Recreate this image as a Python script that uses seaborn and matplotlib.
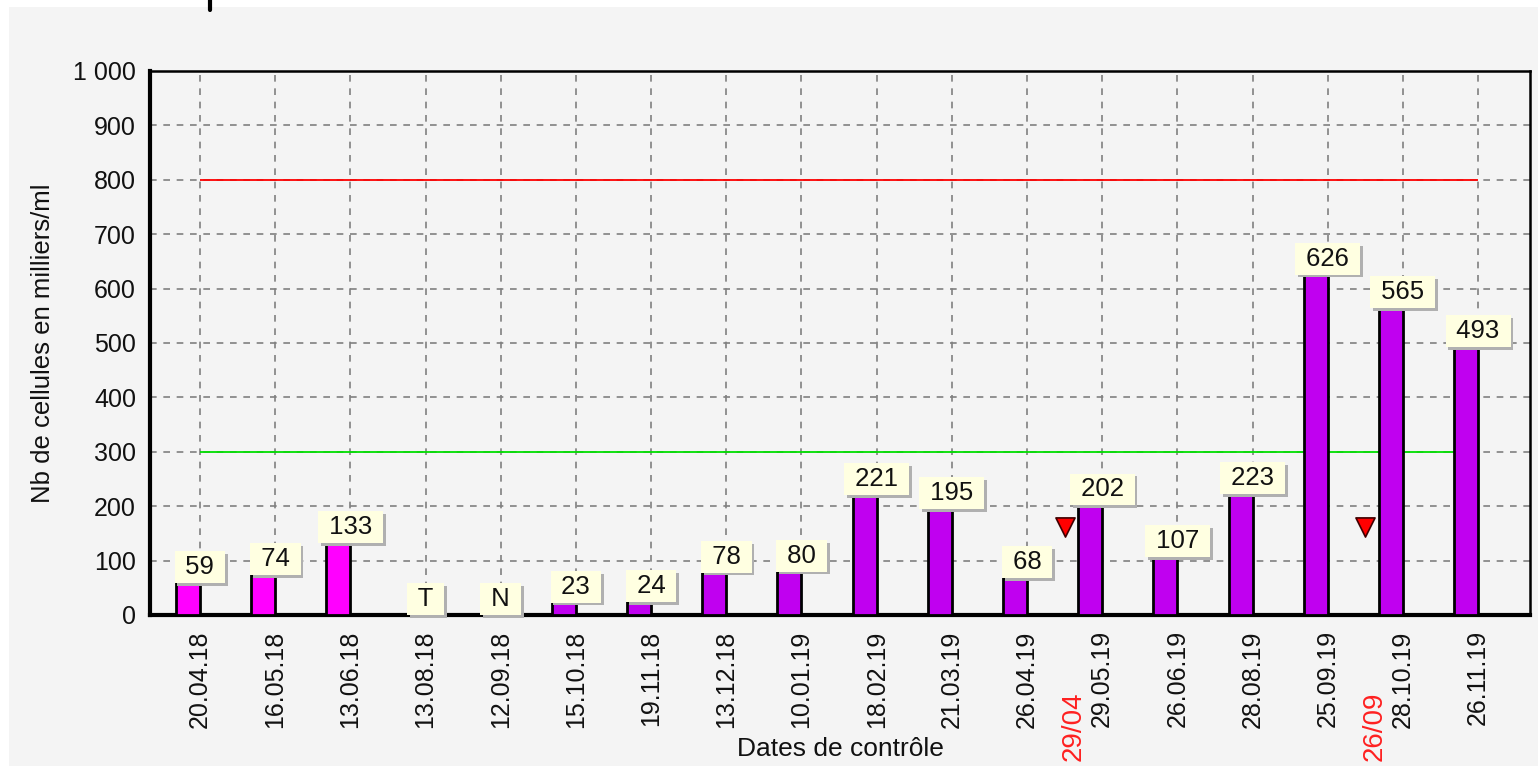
import numpy as np
import pandas as pd
import seaborn as sns
import matplotlib.pyplot as plt
from matplotlib.ticker import MultipleLocator, FuncFormatter
from matplotlib.lines import Line2D
from matplotlib.patches import Rectangle
import matplotlib.patheffects as pe

# ----------------------
# Data
# ----------------------
dates = ["20.04.18", "16.05.18", "13.06.18", "13.08.18", "12.09.18", "15.10.18",
         "19.11.18", "13.12.18", "10.01.19", "18.02.19", "21.03.19", "26.04.19",
         "29.05.19", "26.06.19", "28.08.19", "25.09.19", "28.10.19", "26.11.19"]
cells = [59, 74, 133, 0, 0, 23, 24, 78, 80, 221, 195, 68, 202, 107, 223, 626, 565, 493]
labels = ["59", "74", "133", "T", "N", "23", "24", "78", "80", "221", "195", "68",
          "202", "107", "223", "626", "565", "493"]
lactation = ["L1", "L1", "L1", "L2", "L2", "L2", "L2", "L2", "L2", "L2", "L2", "L2",
             "L2", "L2", "L2", "L2", "L2", "L2"]

# events (between two controls) shown with a red marker
event_pos = [11.5, 15.5]
event_val = [162, 162]
event_txt = ["29/04", "26/09"]

seuil_haut = 800
seuil_bas = 300

df = pd.DataFrame({"date": dates, "cells": cells, "lact": lactation})

# ----------------------
# Figure
# ----------------------
sns.set_theme(style="white")
plt.rcParams["font.family"] = ["Liberation Sans", "DejaVu Sans"]
FS = 18

fig = plt.figure(figsize=(15.38, 7.66), dpi=100, facecolor="white")
fig.patches.append(Rectangle((9 / 1538, 0), 1, 1 - 7 / 766, transform=fig.transFigure,
                             facecolor="#f4f4f4", edgecolor="none", zorder=-10))
fig.lines.append(Line2D([210 / 1538, 210 / 1538], [1, 1 - 10 / 766], transform=fig.transFigure,
                        color="black", lw=3))

ax = fig.add_axes([150 / 1538, 1 - 615 / 766, 1380 / 1538, 544 / 766])
ax.set_facecolor("#f4f4f4")

sns.barplot(data=df, x="date", y="cells", hue="lact",
            palette={"L1": "#ff00ff", "L2": "#c000f0"}, saturation=1,
            width=0.32, edgecolor="black", linewidth=2, dodge=False,
            legend=False, ax=ax, zorder=3)
# bars sit just left of their tick
for p in ax.patches:
    p.set_x(p.get_x() - p.get_width() / 2)

ax.set_xlim(-0.665, 17.69)
ax.set_ylim(0, 1000)

# threshold lines
ax.hlines(seuil_haut, 0, len(dates) - 1, color="#ff0000", lw=1.3, zorder=2)
ax.hlines(seuil_bas, 0, len(dates) - 1, color="#00e000", lw=1.3, zorder=2)

# value labels in little tooltip boxes
pad = 0.15
for i, (v, t) in enumerate(zip(cells, labels)):
    txt = ax.annotate(" " + t + " ", xy=(i, v), xytext=(0, pad * FS), textcoords="offset points",
                      ha="center", va="bottom", fontsize=FS + 0.5, color="#111111", zorder=5,
                      bbox=dict(boxstyle=f"square,pad={pad}", facecolor="#ffffe1", edgecolor="none"))
    txt.get_bbox_patch().set_path_effects([
        pe.SimplePatchShadow(offset=(2, -2), shadow_rgbFace="#b0b0b0", alpha=1),
        pe.Normal()])

# event markers
sns.scatterplot(x=event_pos, y=event_val, marker="v", s=190, color="#ff0000",
                edgecolor="#400000", linewidth=1.2, ax=ax, zorder=6, legend=False)
for x, t in zip(event_pos, event_txt):
    ax.annotate(t, xy=(x, 0), xycoords=("data", "axes fraction"), xytext=(9, -111),
                textcoords="offset pixels", rotation=90, ha="center", va="center",
                fontsize=FS + 2, color="#ff2020", annotation_clip=False)

# axes, ticks, grid
ax.yaxis.set_major_locator(MultipleLocator(100))
ax.yaxis.set_minor_locator(MultipleLocator(20))
ax.xaxis.set_minor_locator(MultipleLocator(0.25))
ax.yaxis.set_major_formatter(FuncFormatter(lambda v, p: f"{int(v):,}".replace(",", " ")))
ax.tick_params(axis="both", which="major", direction="out", length=6, width=1.2,
               color="#555555", labelsize=FS, labelcolor="#111111")
ax.tick_params(axis="x", which="major", pad=5, labelrotation=90)
ax.tick_params(axis="y", which="major", pad=4)
ax.tick_params(axis="both", which="minor", direction="out", length=3, width=1, color="#555555")
ax.grid(True, which="major", axis="both", color="#808080", linestyle=(0, (4, 4)), lw=1.2, zorder=0)
ax.set_axisbelow(True)

for side in ["left", "bottom"]:
    ax.spines[side].set_linewidth(3)
for side in ["top", "right"]:
    ax.spines[side].set_linewidth(1.8)
for s in ax.spines.values():
    s.set_color("black")
    s.set_visible(True)

ax.set_xlabel("Dates de contrôle", fontsize=FS + 1, color="#111111")
ax.set_ylabel("Nb de cellules en milliers/ml", fontsize=FS + 0.5, color="#111111")
ax.xaxis.set_label_coords(0.5, -0.224)
ax.yaxis.set_label_coords(-0.069, 0.5)

fig.savefig("out.png", dpi=100, facecolor=fig.get_facecolor())
